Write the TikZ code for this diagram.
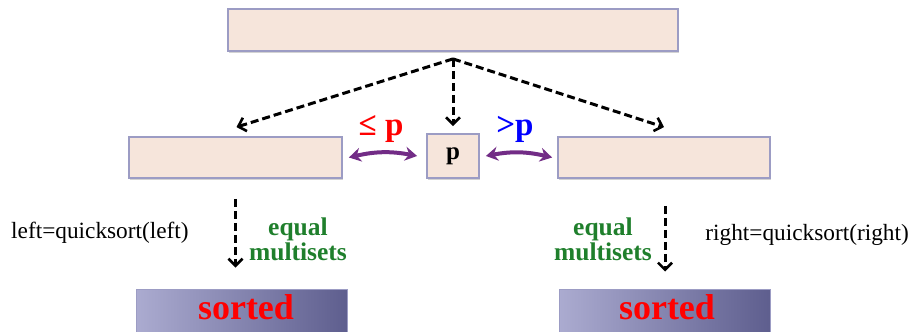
\documentclass[tikz,border=0pt]{standalone}
\usepackage{fontspec}
\setmainfont{Liberation Serif}
\usetikzlibrary{arrows.meta,shadows}
\definecolor{boxfill}{HTML}{F6E5DB}
\definecolor{boxline}{HTML}{9C9CC4}
\definecolor{eqgreen}{HTML}{1F7F2C}
\definecolor{arcpurple}{HTML}{722C86}
\definecolor{sortL}{HTML}{ABABD0}
\definecolor{sortR}{HTML}{5E5E8E}
\tikzset{
  arraybox/.style={draw=boxline, line width=1.8pt, fill=boxfill, inner sep=0pt,
    drop shadow={opacity=0.35, shadow xshift=1pt, shadow yshift=-2pt}},
  sortbox/.style={draw=boxline, line width=1pt, left color=sortL, right color=sortR,
    minimum width=211pt, minimum height=46pt, inner sep=0pt},
  dasharrow/.style={line width=3pt, dash pattern=on 8pt off 4pt, -{Straight Barb[length=7pt,width=14pt,line width=2.6pt]}},
  swaparrow/.style={line width=4pt, arcpurple, {Stealth[length=12pt,width=14pt,inset=4pt]}-{Stealth[length=12pt,width=14pt,inset=4pt]}},
  lbl/.style={font=\fontsize{23.3}{26}\selectfont, inner sep=0pt},
  eqlbl/.style={font=\fontsize{25.5}{25}\selectfont\bfseries, text=eqgreen, align=center, inner sep=0pt},
  sortlbl/.style={font=\fontsize{36}{38}\selectfont\bfseries, text=red, inner sep=0pt},
  cmplbl/.style={font=\fontsize{33}{34}\selectfont\bfseries, inner sep=0pt}
}
\begin{document}
\begin{tikzpicture}[x=1pt,y=1pt]
\useasboundingbox (0,0) rectangle (911,-332);
\clip (0,0) rectangle (911,-332);
\node[arraybox, minimum width=450pt, minimum height=42pt] (top) at (453,-30) {};
\node[arraybox, minimum width=213pt, minimum height=41pt] (left) at (235.5,-157.5) {};
\node[arraybox, minimum width=52pt, minimum height=44pt, font=\fontsize{25}{26}\selectfont\bfseries] (piv) at (453,-156) {p};
\node[arraybox, minimum width=212pt, minimum height=41pt] (right) at (664,-157.5) {};
\node[sortbox] (sl) at (242,-312) {};
\node[sortbox] (sr) at (665,-312) {};
\node[sortlbl] (slt) at (246,-307) {sorted};
\node[sortlbl] (srt) at (667,-307) {sorted};
\coordinate (fork) at ([yshift=-7pt]top.south);
\draw[dasharrow] (fork) -- ([xshift=1pt,yshift=9pt]left.north);
\draw[dasharrow] (fork) -- ([yshift=7pt]piv.north);
\draw[dasharrow] (fork) -- ([yshift=9pt]right.north);
\draw[dasharrow] ([yshift=-20pt]left.south) -- ([yshift=21pt]left.south |- sl.north);
\draw[dasharrow] ([xshift=1pt,yshift=-27pt]right.south) -- ([xshift=1pt,yshift=17pt]right.south |- sr.north);
\draw[swaparrow] ([xshift=6pt]left.east) to[bend left=12] ([xshift=-9pt]piv.west);
\draw[swaparrow] ([xshift=6pt]piv.east) to[bend left=12] ([xshift=-5pt]right.west);
\node[cmplbl, text=red] (le) at (381,-129) {≤ p};
\node[cmplbl, text=blue] (gt) at (515,-129) {>p};
\node[lbl, anchor=west] (lq) at (11,-233) {left=quicksort(left)};
\node[lbl, anchor=east] (rq) at (909,-235) {right=quicksort(right)};
\node[eqlbl] (eql) at (298,-239) {equal\\multisets};
\node[eqlbl] (eqr) at (603,-239) {equal\\multisets};
\end{tikzpicture}
\end{document}
